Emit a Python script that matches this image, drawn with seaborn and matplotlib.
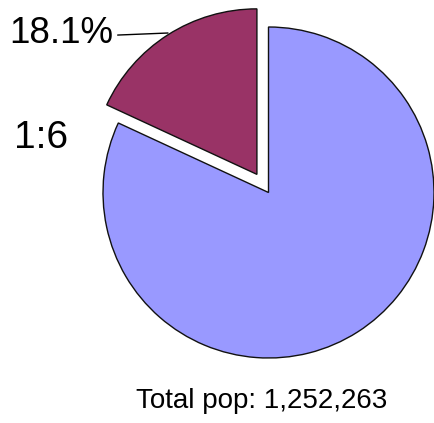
import matplotlib
matplotlib.use("Agg")
import matplotlib.pyplot as plt
import seaborn as sns

sns.set_theme(style="white")
plt.rcParams['font.family'] = ['Liberation Sans', 'DejaVu Sans']

# Data
categories = ["1:6 group", "Rest"]
shares = [18.1, 81.9]
slice_colors = ["#993366", "#9999FF"]
ratio_label = "1:6"
total_label = "Total pop: 1,252,263"

W, H = 434, 423
cx, cy, R = 268.5, 192.5, 165.5  # pie centre / radius in pixels

fig = plt.figure(figsize=(W / 100, H / 100), dpi=100)
fig.patch.set_facecolor("white")
ax = fig.add_axes([0, 0, 1, 1])

ax.pie(shares, colors=slice_colors, startangle=90, counterclock=True,
       explode=[0.13, 0], radius=1,
       wedgeprops=dict(edgecolor="#111111", linewidth=1.0))
ax.set_xlim(-cx / R, (W - cx) / R)
ax.set_ylim(-(H - cy) / R, cy / R)
ax.set_aspect("auto")
ax.axis("off")

def d(px, py):
    return ((px - cx) / R, (cy - py) / R)

pct_text = f"{shares[0] / sum(shares) * 100:.1f}%"
ax.annotate(pct_text, xy=d(168, 33), xytext=d(9, 43),
            ha="left", va="baseline", fontsize=26.5, color="black",
            arrowprops=dict(arrowstyle="-", color="black", lw=1,
                            shrinkA=1, shrinkB=0, relpos=(1.0, 0.45)))
ax.text(*d(14, 148), ratio_label, ha="left", va="baseline", fontsize=28, color="black")
ax.text(*d(262, 408), total_label, ha="center", va="baseline", fontsize=20, color="black")

fig.savefig("out.png", dpi=100, facecolor="white")
